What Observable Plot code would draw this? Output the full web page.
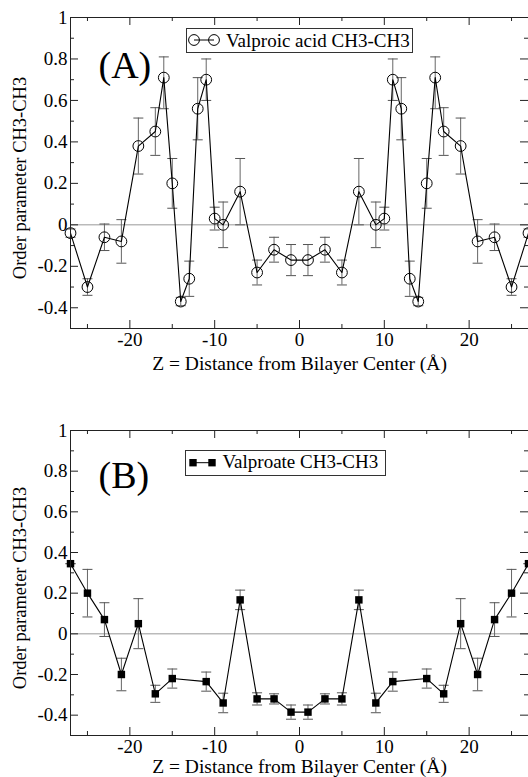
<!DOCTYPE html>
<html><head><meta charset="utf-8">
<script src="https://cdn.jsdelivr.net/npm/d3@7"></script>
<script src="https://cdn.jsdelivr.net/npm/@observablehq/plot@0.6"></script>
<style>body{margin:0;background:#fff}svg{display:block}</style>
</head><body><div id="chart"></div>
<script>
// ---- Data ----
const zA = [-27,-25,-23,-21,-19,-17,-16,-15,-14,-13,-12,-11,-10,-9,-7,-5,-3,-1,1,3,5,7,9,10,11,12,13,14,15,16,17,19,21,23,25,27];
const sA = [-0.04,-0.30,-0.06,-0.08,0.38,0.45,0.71,0.20,-0.37,-0.26,0.56,0.70,0.03,0.00,0.16,-0.23,-0.12,-0.17,
            -0.17,-0.12,-0.23,0.16,0.00,0.03,0.70,0.56,-0.26,-0.37,0.20,0.71,0.45,0.38,-0.08,-0.06,-0.30,-0.04];
const errUpA = [0.02,0.04,0.064,0.105,0.135,0.115,0.10,0.12,0.02,0.085,0.15,0.10,0.055,0.11,0.16,0.06,0.06,0.075,
                0.075,0.06,0.06,0.16,0.11,0.055,0.10,0.15,0.085,0.02,0.12,0.10,0.115,0.135,0.105,0.064,0.04,0.02];
const errDownA = [0.02,0.04,0.064,0.105,0.135,0.115,0.15,0.12,0.02,0.085,0.15,0.10,0.055,0.11,0.16,0.06,0.06,0.075,
                  0.075,0.06,0.06,0.16,0.11,0.055,0.10,0.15,0.085,0.02,0.12,0.15,0.115,0.135,0.105,0.064,0.04,0.02];

const zB = [-27,-25,-23,-21,-19,-17,-15,-11,-9,-7,-5,-3,-1,1,3,5,7,9,11,15,17,19,21,23,25,27];
const sB = [0.345,0.20,0.07,-0.20,0.05,-0.295,-0.22,-0.235,-0.34,0.167,-0.32,-0.32,-0.385,
            -0.385,-0.32,-0.32,0.167,-0.34,-0.235,-0.22,-0.295,0.05,-0.20,0.07,0.20,0.345];
const errB = [0,0.117,0.083,0.08,0.123,0.042,0.047,0.047,0.048,0.048,0.03,0.025,0.035,
              0.035,0.025,0.03,0.048,0.048,0.047,0.047,0.042,0.123,0.08,0.083,0.117,0];

const xMajor = [-20,-10,0,10,20];
const xMinor = [-25,-15,-5,5,15,25];
const yMajor = [-0.4,-0.2,0,0.2,0.4,0.6,0.8,1];
const yMinor = [-0.3,-0.1,0.1,0.3,0.5,0.7,0.9];

const xTitle = "Z = Distance from Bilayer Center (Å)";
const yTitle = "Order parameter CH3-CH3";
const legendA = "Valproic acid CH3-CH3";
const legendB = "Valproate CH3-CH3";

// ---- Drawing ----
const FONT = '"Liberation Serif","Times New Roman",serif';
const W = 528, ML = 70, MR = 0;
const capSymbol = {draw(ctx, size) { const w = Math.sqrt(size / Math.PI); ctx.moveTo(-w, 0); ctx.lineTo(w, 0); }};

function panel({z, s, up, down, height, mt, mb, tag, tagDy, titleDy, square}) {
  const rows = z.map((v, i) => ({z: v, s: s[i], hi: s[i] + up[i], lo: s[i] - down[i]}));
  const ph = height - mt - mb, pw = W - ML - MR;
  const tick = "#222";
  return Plot.plot({
    width: W, height, marginLeft: ML, marginRight: MR, marginTop: mt, marginBottom: mb,
    style: {fontFamily: FONT, fontSize: "19px", color: "#000", background: "#fff", overflow: "visible"},
    x: {domain: [-27, 27]},
    y: {domain: [-0.5, 1]},
    marks: [
      Plot.ruleY([0], {stroke: "#999", strokeWidth: 1}),
      Plot.ruleX(rows, {x: "z", y1: "lo", y2: "hi", stroke: "#666", strokeWidth: 1}),
      Plot.dot(rows, {x: "z", y: "hi", symbol: capSymbol, r: 5, stroke: "#555", strokeWidth: 1}),
      Plot.dot(rows, {x: "z", y: "lo", symbol: capSymbol, r: 5, stroke: "#555", strokeWidth: 1}),
      Plot.line(rows, {x: "z", y: "s", stroke: "#000", strokeWidth: 1.1}),
      square
        ? Plot.dot(rows, {x: "z", y: "s", symbol: "square", r: 4.2, fill: "#000", stroke: "none"})
        : Plot.dot(rows, {x: "z", y: "s", symbol: "circle", r: 5.4, fill: "none", stroke: "#000", strokeWidth: 1}),
      // inward ticks on all four sides
      Plot.tickX(xMajor, {x: d => d, insetTop: ph - 8, stroke: tick}),
      Plot.tickX(xMinor, {x: d => d, insetTop: ph - 4, stroke: tick}),
      Plot.tickX(xMajor, {x: d => d, insetBottom: ph - 8, stroke: tick}),
      Plot.tickX(xMinor, {x: d => d, insetBottom: ph - 4, stroke: tick}),
      Plot.tickY(yMajor, {y: d => d, insetRight: pw - 8, stroke: tick}),
      Plot.tickY(yMinor, {y: d => d, insetRight: pw - 4, stroke: tick}),
      Plot.tickY(yMajor, {y: d => d, insetLeft: pw - 8, stroke: tick}),
      Plot.tickY(yMinor, {y: d => d, insetLeft: pw - 4, stroke: tick}),
      Plot.frame({stroke: "#222"}),
      Plot.axisX({ticks: xMajor, tickSize: 0, tickPadding: 4, tickFormat: d => String(d), label: null, fontSize: 19}),
      Plot.axisY({ticks: yMajor, tickSize: 0, tickPadding: 3, tickFormat: d => String(d), label: null, fontSize: 19}),
      Plot.text([xTitle], {frameAnchor: "bottom", dy: titleDy, textAnchor: "middle", lineAnchor: "middle", fontSize: 19.5, fill: "#000"}),
      Plot.text([yTitle], {frameAnchor: "left", dx: -50, dy: 5, rotate: -90, textAnchor: "middle", lineAnchor: "middle", fontSize: 18.5, fill: "#000"}),
      Plot.text([tag], {frameAnchor: "top-left", dx: 28, dy: tagDy, textAnchor: "start", lineAnchor: "bottom", fontSize: 38, fill: "#000"})
    ]
  });
}

const plotA = panel({z: zA, s: sA, up: errUpA, down: errDownA, height: 390, mt: 17, mb: 62, tag: "(A)", tagDy: 60, titleDy: 35, square: false});
const plotB = panel({z: zB, s: sB, up: errB, down: errB, height: 387, mt: 40, mb: 42, tag: "(B)", tagDy: 57, titleDy: 31.5, square: true});

function legend(svgNode, {x, y, w, h, m1, m2, my, tx, ty, text, square}) {
  const g = d3.select(svgNode).append("g").attr("font-family", FONT).attr("text-anchor", "start");
  g.append("rect").attr("x", x).attr("y", y).attr("width", w).attr("height", h)
    .attr("fill", "#fff").attr("stroke", "#333").attr("stroke-width", 1);
  g.append("line").attr("x1", m1).attr("x2", m2).attr("y1", my).attr("y2", my).attr("stroke", "#000");
  for (const mx of [m1, m2]) {
    if (square) g.append("rect").attr("x", mx - 3.7).attr("y", my - 3.7).attr("width", 7.4).attr("height", 7.4).attr("fill", "#000");
    else g.append("circle").attr("cx", mx).attr("cy", my).attr("r", 5.4).attr("fill", "none").attr("stroke", "#000");
  }
  g.append("text").attr("x", tx).attr("y", ty).attr("font-size", 19).attr("text-anchor", "start").attr("fill", "#000").text(text);
}
legend(plotA, {x: 186.5, y: 28.5, w: 226, h: 24, m1: 194, m2: 214, my: 40, tx: 226, ty: 46.5, text: legendA, square: false});
legend(plotB, {x: 185.5, y: 60.5, w: 200, h: 25, m1: 193, m2: 212, my: 72.7, tx: 222.5, ty: 77.5, text: legendB, square: true});

document.getElementById("chart").append(plotA, plotB);
</script>
</body></html>
